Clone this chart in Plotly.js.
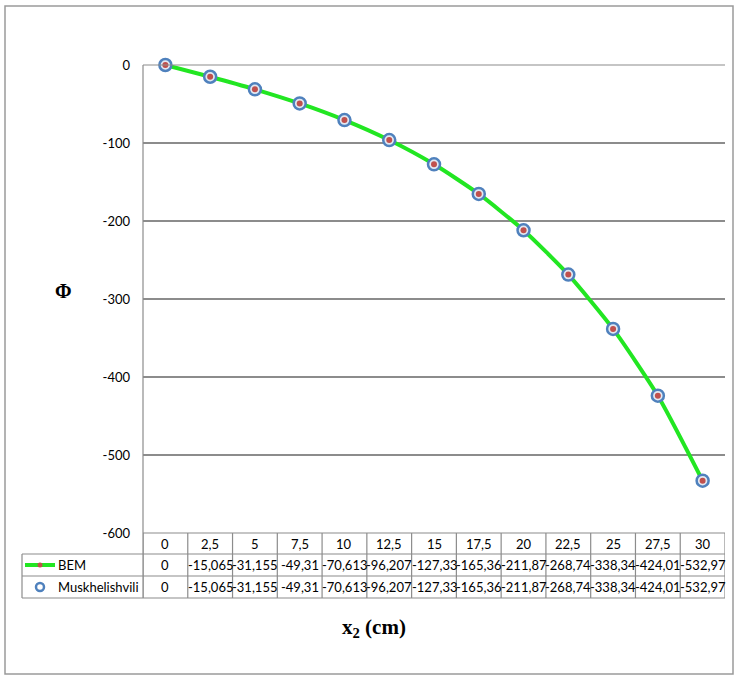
<!DOCTYPE html>
<html>
<head>
<meta charset="utf-8">
<script src="https://cdn.plot.ly/plotly-3.0.1.min.js"></script>
<style>html,body{margin:0;padding:0;background:#fff;}#chart{width:738px;height:678px;}</style>
</head>
<body>
<div id="chart"></div>
<script>
// ---- data ----
var x2 = [0, 2.5, 5, 7.5, 10, 12.5, 15, 17.5, 20, 22.5, 25, 27.5, 30];
var xLabels = ["0", "2,5", "5", "7,5", "10", "12,5", "15", "17,5", "20", "22,5", "25", "27,5", "30"];
var bem = [0, -15.065, -31.155, -49.31, -70.613, -96.207, -127.33, -165.36, -211.87, -268.74, -338.34, -424.01, -532.97];
var muskhelishvili = [0, -15.065, -31.155, -49.31, -70.613, -96.207, -127.33, -165.36, -211.87, -268.74, -338.34, -424.01, -532.97];
var seriesNames = ["BEM", "Muskhelishvili"];
var yTickVals = [0, -100, -200, -300, -400, -500, -600];
var yTickText = ["0", "-100", "-200", "-300", "-400", "-500", "-600"];

// ---- layout geometry (pixels) ----
var W = 738, H = 678;
var L = 143, R = 725, T = 65, B = 533;
var plotW = R - L, plotH = B - T;
function px2paperX(px){ return (px - L) / plotW; }
function px2paperY(py){ return (B - py) / plotH; }
var rowY = [533, 554, 576, 598];
var legendLeft = 22;
var gridCol = '#8c8c8c';
var fontFam = 'Lato, "Open Sans", sans-serif';
var fs = 13;

function fmt(v){ return String(v).replace('.', ','); }

var step = 2.5;
var shapes = [];
var annotations = [];

// top gridline (at 0)
shapes.push({type:'line', xref:'paper', yref:'paper', x0:0, x1:1, y0:1, y1:1, line:{color:gridCol, width:1.2}});
// table horizontal lines
shapes.push({type:'line', xref:'paper', yref:'paper', x0:0, x1:1, y0:px2paperY(rowY[0]), y1:px2paperY(rowY[0]), line:{color:gridCol, width:1.2}});
for (var i = 1; i < rowY.length; i++) {
  shapes.push({type:'line', xref:'paper', yref:'paper', x0:px2paperX(legendLeft), x1:1, y0:px2paperY(rowY[i]), y1:px2paperY(rowY[i]), line:{color:gridCol, width:1.2}});
}
// table vertical lines
for (var k = 0; k <= x2.length; k++) {
  var xv = x2[0] - step/2 + k*step;
  shapes.push({type:'line', xref:'x', yref:'paper', x0:xv, x1:xv, y0:px2paperY(rowY[0]), y1:px2paperY(rowY[3]), line:{color:gridCol, width:1.2}});
}
shapes.push({type:'line', xref:'paper', yref:'paper', x0:px2paperX(legendLeft), x1:px2paperX(legendLeft), y0:px2paperY(rowY[1]), y1:px2paperY(rowY[3]), line:{color:gridCol, width:1.2}});
// y axis line
shapes.push({type:'line', xref:'paper', yref:'paper', x0:0, x1:0, y0:1, y1:px2paperY(rowY[3]), line:{color:gridCol, width:1.2}});
// outer border
shapes.push({type:'rect', xref:'paper', yref:'paper', x0:px2paperX(5), x1:px2paperX(733), y0:px2paperY(6), y1:px2paperY(674), line:{color:'#9a9a9a', width:1.5}});

// legend keys
var r1 = (rowY[1] + rowY[2]) / 2, r2 = (rowY[2] + rowY[3]) / 2;
shapes.push({type:'line', xref:'paper', yref:'paper', x0:px2paperX(25), x1:px2paperX(55), y0:px2paperY(r1), y1:px2paperY(r1), line:{color:'#22e622', width:4}});
shapes.push({type:'circle', xref:'paper', yref:'paper', x0:px2paperX(37.5), x1:px2paperX(42.5), y0:px2paperY(r1-2.5), y1:px2paperY(r1+2.5), fillcolor:'#c0504d', line:{color:'#c0504d', width:0}});
shapes.push({type:'circle', xref:'paper', yref:'paper', x0:px2paperX(36), x1:px2paperX(44), y0:px2paperY(r2-4), y1:px2paperY(r2+4), fillcolor:'#ffffff', line:{color:'#4f81bd', width:2.5}});

annotations.push({xref:'paper', yref:'paper', x:px2paperX(56), y:px2paperY(r1), text:seriesNames[0], showarrow:false, xanchor:'left', yanchor:'middle', font:{family:fontFam, size:fs, color:'#000'}});
annotations.push({xref:'paper', yref:'paper', x:px2paperX(56), y:px2paperY(r2), text:seriesNames[1], showarrow:false, xanchor:'left', yanchor:'middle', font:{family:fontFam, size:fs, color:'#000'}});

// table cells
var r0 = (rowY[0] + rowY[1]) / 2;
for (var j = 0; j < x2.length; j++) {
  annotations.push({xref:'x', yref:'paper', x:x2[j], y:px2paperY(r0), text:xLabels[j], showarrow:false, xanchor:'center', yanchor:'middle', font:{family:fontFam, size:fs, color:'#000'}});
  annotations.push({xref:'x', yref:'paper', x:x2[j], y:px2paperY(r1), text:fmt(bem[j]), showarrow:false, xanchor:'center', yanchor:'middle', font:{family:fontFam, size:fs, color:'#000'}});
  annotations.push({xref:'x', yref:'paper', x:x2[j], y:px2paperY(r2), text:fmt(muskhelishvili[j]), showarrow:false, xanchor:'center', yanchor:'middle', font:{family:fontFam, size:fs, color:'#000'}});
}

// axis titles
annotations.push({xref:'paper', yref:'paper', x:px2paperX(63), y:px2paperY(291), text:'<b>Φ</b>', showarrow:false, xanchor:'center', yanchor:'middle', font:{family:'"Liberation Serif", "DejaVu Serif", serif', size:20, color:'#000'}});
annotations.push({xref:'paper', yref:'paper', x:px2paperX(374), y:px2paperY(628), text:'<b>x<sub>2</sub> (cm)</b>', showarrow:false, xanchor:'center', yanchor:'middle', font:{family:'"Liberation Serif", "DejaVu Serif", serif', size:21, color:'#000'}});

var traces = [
  {x:x2, y:bem, mode:'lines', type:'scatter', line:{color:'#22e622', width:4, shape:'spline', smoothing:0.6}, hoverinfo:'skip', showlegend:false, cliponaxis:false},
  {x:x2, y:muskhelishvili, mode:'markers', type:'scatter', name:seriesNames[1], marker:{symbol:'circle', size:12, color:'rgba(225,232,242,1)', line:{color:'#4f81bd', width:2.5}}, showlegend:false, cliponaxis:false},
  {x:x2, y:bem, mode:'markers', type:'scatter', name:seriesNames[0], marker:{symbol:'circle', size:6, color:'#c0504d'}, showlegend:false, cliponaxis:false}
];

var layout = {
  width:W, height:H,
  margin:{l:L, r:W-R, t:T, b:H-B, pad:0},
  paper_bgcolor:'#fff', plot_bgcolor:'#fff',
  showlegend:false,
  xaxis:{range:[x2[0]-step/2, x2[x2.length-1]+step/2], showgrid:false, zeroline:false, showticklabels:false, ticks:'', showline:false, fixedrange:true},
  yaxis:{range:[-600, 0], tickmode:'array', tickvals:yTickVals, ticktext:yTickText, showgrid:true, gridcolor:gridCol, gridwidth:1.2, zeroline:false, showline:false, ticks:'', ticklabelstandoff:12, tickfont:{family:fontFam, size:fs, color:'#000'}, fixedrange:true},
  shapes:shapes,
  annotations:annotations
};

Plotly.newPlot('chart', traces, layout, {displayModeBar:false, staticPlot:true});
</script>
</body>
</html>
